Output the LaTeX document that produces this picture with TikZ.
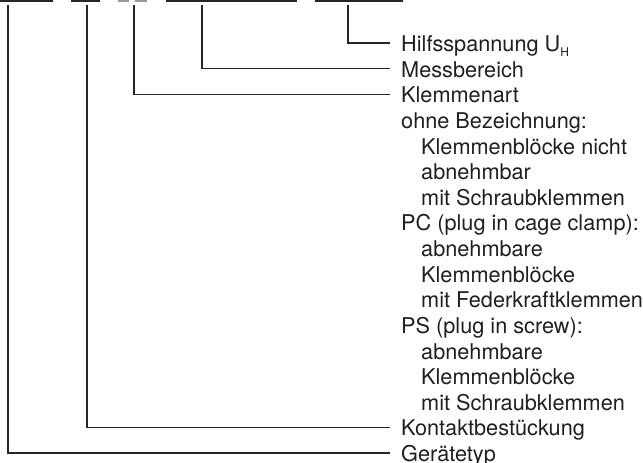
\documentclass[tikz,border=0pt]{standalone}
\usepackage{fontspec}
\setmainfont{TeX Gyre Heros}
\begin{document}
\begin{tikzpicture}[x=1pt,y=-1pt,
  lab/.style={anchor=west,inner sep=0pt,text height=17pt,text depth=0pt,
    font=\fontsize{21.7}{26}\selectfont,text=black!88},
  conn/.style={line width=1.2pt,draw=black!85},
  bar/.style={line width=1.3pt,draw=black!85},
  graybar/.style={line width=1.3pt,draw=black!40}]
\useasboundingbox (0,0) rectangle (643,463);
% top bars
\draw[bar] (0,1) -- (53,1);
\draw[bar] (71,1) -- (100,1);
\draw[graybar] (118,1) -- (129,1);
\draw[graybar] (135,1) -- (147,1);
\draw[bar] (166,1) -- (297,1);
\draw[bar] (315,1) -- (403,1);
% top coordinates of the verticals
\coordinate (t1) at (8,5);
\coordinate (t2) at (87,5);
\coordinate (t3) at (134,5);
\coordinate (t4) at (202,5);
\coordinate (t5) at (348,5);
% labels
\def\xa{401}
\def\xb{421}
\node[lab] (hilfs) at (\xa,43) {Hilfsspannung U\raisebox{-4.5pt}{\fontsize{12}{12}\selectfont H}};
\node[lab] (mess) at (\xa,68.6) {Messbereich};
\node[lab] (klart) at (\xa,94.25) {Klemmenart};
\node[lab] (ohne) at (\xa,119.9) {ohne Bezeichnung:};
\node[lab] (o1) at (\xb,145.5) {Klemmenblöcke nicht};
\node[lab] (o2) at (\xb,171.1) {abnehmbar};
\node[lab] (o3) at (\xb,196.75) {mit Schraubklemmen};
\node[lab] (pc) at (\xa,222.4) {PC (plug in cage clamp):};
\node[lab] (p1) at (\xb,248) {abnehmbare};
\node[lab] (p2) at (\xb,273.6) {Klemmenblöcke};
\node[lab] (p3) at (\xb,299.25) {mit Federkraftklemmen};
\node[lab] (ps) at (\xa,324.9) {PS (plug in screw):};
\node[lab] (s1) at (\xb,350.5) {abnehmbare};
\node[lab] (s2) at (\xb,376.1) {Klemmenblöcke};
\node[lab] (s3) at (\xb,401.75) {mit Schraubklemmen};
\node[lab] (kontakt) at (\xa,427.4) {Kontaktbestückung};
\node[lab] (geraet) at (\xa,453) {Gerätetyp};
% connectors
\draw[conn] (t5) |- ([xshift=-11pt]hilfs.west);
\draw[conn] (t4) |- ([xshift=-11pt]mess.west);
\draw[conn] (t3) |- ([xshift=-11pt]klart.west);
\draw[conn] (t2) |- ([xshift=-11pt]kontakt.west);
\draw[conn] (t1) |- ([xshift=-11pt]geraet.west);
\end{tikzpicture}
\end{document}
